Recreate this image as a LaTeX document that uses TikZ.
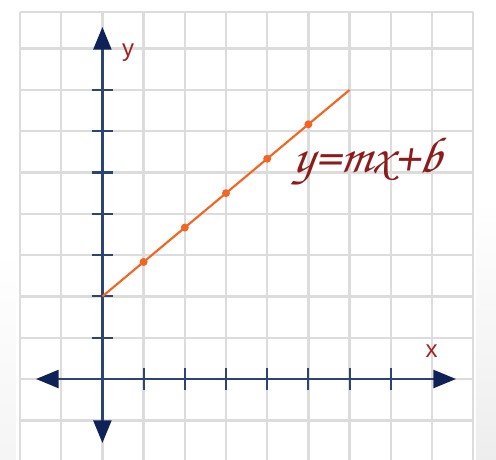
\documentclass[tikz,border=0pt]{standalone}
\usepackage{fontspec}
\setmainfont{Liberation Sans}
\newfontfamily\handfont{TeX Gyre Chorus}
\usetikzlibrary{arrows.meta}
\definecolor{gridgray}{HTML}{DCDCDC}
\definecolor{axisblue}{HTML}{2C4470}
\definecolor{tipblue}{HTML}{0F2257}
\definecolor{lineorange}{HTML}{F26522}
\definecolor{labelred}{HTML}{A52222}
\definecolor{eqred}{HTML}{8E1B1B}
\tikzset{
  gridline/.style={draw=gridgray, line width=1.8pt},
  axisline/.style={draw=axisblue, line width=1.8pt},
  axistip/.style={-{Triangle[length=17pt,width=13.5pt,fill=tipblue,color=tipblue]}},
  tickmark/.style={draw=axisblue, line width=1.6pt},
  graphline/.style={draw=lineorange, line width=1.6pt},
  dotnode/.style={circle, fill=lineorange, inner sep=0pt, minimum size=6pt},
  axislabel/.style={text=labelred, font=\fontsize{18}{18}\selectfont},
  eqlabel/.style={text=eqred, xslant=0.15, font=\handfont\itshape\fontsize{38}{38}\selectfont}
}
\begin{document}
\begin{tikzpicture}[x=0.75pt,y=-0.75pt]
\useasboundingbox (0,0) rectangle (496,460);
\fill[white] (0,0) rectangle (496,460);
\shade[top color=white, bottom color=black!7] (476,200) rectangle (496,460);
\shade[top color=white, bottom color=black!4] (0,250) rectangle (16,460);
% grid
\foreach \i in {0,...,11}
  \draw[gridline] ({20+41.2*\i},12) -- ({20+41.2*\i},462);
\foreach \k in {-1,0,...,8}
  \draw[gridline] (20,{379-41.3*\k}) -- (473.2,{379-41.3*\k});
\draw[gridline] (20,12) -- (473.2,12);
% axes
\coordinate (O) at (102.4,379);
\coordinate (ytop) at (102.4,27);
\coordinate (ybot) at (102.4,443);
\coordinate (xleft) at (36,379);
\coordinate (xright) at (456,379);
\draw[axisline, axistip] (O) -- (ytop);
\draw[axisline, axistip] (O) -- (ybot);
\draw[axisline, axistip] (O) -- (xleft);
\draw[axisline, axistip] (O) -- (xright);
% ticks
\foreach \k in {1,...,7}
  \draw[tickmark] (92,{379-41.3*\k}) -- (113,{379-41.3*\k});
\foreach \i in {1,...,7}
  \draw[tickmark] ({102.4+41.2*\i},368) -- ({102.4+41.2*\i},390);
% line
\coordinate (b) at (102.4,296.4);
\coordinate (e) at (349.6,89.9);
\draw[graphline] (b) -- (e);
\foreach \i in {1,...,5}
  \node[dotnode] (p\i) at ({102.4+41.2*\i},{296.4-41.3*\i*5/6}) {};
% labels
\node[axislabel] (ylab) at (128,53) {y};
\node[axislabel] (xlab) at (431.5,351) {x};
\node[eqlabel] (eq) at (368,162) {y=mx+b};
\end{tikzpicture}
\end{document}
